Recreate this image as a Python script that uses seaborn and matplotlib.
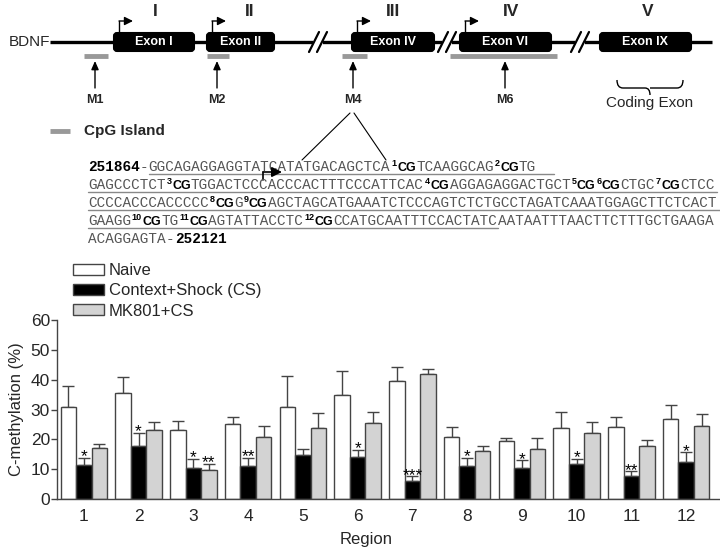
import numpy as np
import pandas as pd
import matplotlib
matplotlib.use("Agg")
import matplotlib.pyplot as plt
from matplotlib.path import Path
from matplotlib.patches import PathPatch, FancyBboxPatch
import seaborn as sns

# ---------------- data ----------------
regions = [str(i) for i in range(1, 13)]
groups = ["Naive", "Context+Shock (CS)", "MK801+CS"]
naive = [30.8, 35.5, 23.0, 25.2, 30.9, 34.9, 39.4, 20.9, 19.4, 23.8, 24.0, 26.8]
naive_err = [7.2, 5.5, 3.3, 2.3, 10.4, 8.0, 4.8, 3.2, 0.9, 5.2, 3.4, 4.6]
cs = [11.5, 17.8, 10.4, 11.2, 14.7, 14.2, 6.1, 11.2, 10.4, 11.7, 7.8, 12.5]
cs_err = [2.2, 4.3, 3.0, 2.7, 2.1, 2.3, 1.5, 2.5, 2.6, 1.7, 1.5, 3.2]
mk = [17.0, 23.0, 9.8, 20.7, 23.9, 25.4, 41.8, 16.2, 16.8, 22.1, 17.8, 24.5]
mk_err = [1.5, 2.9, 1.9, 3.8, 4.8, 3.7, 1.9, 1.6, 3.5, 3.7, 2.1, 4.0]
naive_stars = [""] * 12
cs_stars = ["*", "*", "*", "**", "", "*", "***", "*", "*", "*", "**", "*"]
mk_stars = ["", "", "**", "", "", "", "", "", "", "", "", ""]
yticks = [0, 10, 20, 30, 40, 50, 60]

df = pd.DataFrame({
    "Region": regions * 3,
    "Group": [g for g in groups for _ in regions],
    "Value": naive + cs + mk,
})
errs = [naive_err, cs_err, mk_err]
stars = [naive_stars, cs_stars, mk_stars]

sns.set_style("ticks")
plt.rcParams["font.family"] = ["Liberation Sans", "DejaVu Sans"]

W, H = 720, 549
fig = plt.figure(figsize=(7.2, 5.49), dpi=100)

# ---------------- diagram (pixel coordinate canvas) ----------------
axd = fig.add_axes([0, 0, 1, 1])
axd.set_xlim(0, W)
axd.set_ylim(H, 0)
axd.axis("off")
axd.patch.set_alpha(0)

ly = 42
axd.text(9, ly, "BDNF", fontsize=11, va="center", ha="left")
axd.plot([50, 712], [ly, ly], color="black", lw=2.4, solid_capstyle="butt", zorder=1)

exons = [("Exon I", 112, 196), ("Exon II", 205, 276), ("Exon IV", 350, 436),
         ("Exon VI", 458, 553), ("Exon IX", 598, 693)]
for name, x0, x1 in exons:
    axd.add_patch(FancyBboxPatch((x0 + 2, ly - 9), x1 - x0 - 4, 18,
                                 boxstyle="round,pad=0,rounding_size=3",
                                 fc="black", ec="black", lw=1.5, zorder=3))
    axd.text((x0 + x1) / 2, ly, name, color="white", fontsize=9,
             fontweight="bold", ha="center", va="center", zorder=4)

for name, x0, x1 in exons[:4]:
    xa = x0 + 7
    axd.plot([xa, xa], [ly - 10, ly - 21], color="black", lw=1, zorder=3)
    axd.annotate("", xy=(xa + 14, ly - 21), xytext=(xa, ly - 21),
                 arrowprops=dict(arrowstyle="-|>,head_length=0.5,head_width=0.25",
                                 color="black", lw=1, shrinkA=0, shrinkB=0))

numerals = [("I", 155), ("II", 250), ("III", 393), ("IV", 511), ("V", 648)]
for t, x in numerals:
    axd.text(x, 12, t, fontsize=12.5, fontweight="bold", ha="center", va="center")

for xb in [318, 447, 580]:
    axd.add_patch(plt.Rectangle((xb - 5, ly - 3), 10, 6, fc="white", ec="none", zorder=2))
    for dx in (-4, 4):
        axd.plot([xb + dx - 5, xb + dx + 5], [ly + 10, ly - 10], color="black", lw=1.6, zorder=2)

cpg = [(84, 108, 95, "M1"), (207, 229, 217, "M2"), (342, 367, 353, "M4"), (450, 557, 505, "M6")]
for x0, x1, xm, lab in cpg:
    axd.plot([x0, x1], [56, 56], color="#999999", lw=3.5, solid_capstyle="butt")
    axd.annotate("", xy=(xm, 61), xytext=(xm, 88),
                 arrowprops=dict(arrowstyle="-|>,head_length=0.5,head_width=0.22",
                                 color="black", lw=1, shrinkA=0, shrinkB=0))
    axd.text(xm, 100, lab, fontsize=9, fontweight="bold", ha="center", va="center")

# brace under coding exon
bx0, bx1, by0, by1 = 617, 683, 80, 88
bm = (bx0 + bx1) / 2
verts = [(bx0, by0), (bx0, by1), (bx0 + 6, by1), (bm - 5, by1), (bm, by1), (bm, by1 + 7),
         (bm, by1), (bm + 5, by1), (bx1 - 6, by1), (bx1, by1), (bx1, by0)]
codes = [Path.MOVETO, Path.CURVE3, Path.CURVE3, Path.LINETO, Path.CURVE3, Path.CURVE3,
         Path.MOVETO, Path.CURVE3, Path.LINETO, Path.CURVE3, Path.CURVE3]
axd.add_patch(PathPatch(Path(verts, codes), fc="none", ec="black", lw=1))
axd.text(bm, 103, "Coding Exon", fontsize=11, ha="center", va="center")

axd.plot([50, 70], [131, 131], color="#999999", lw=3.5, solid_capstyle="butt")
axd.text(84, 131, "CpG Island", fontsize=11, fontweight="bold", ha="left", va="center")

axd.plot([350, 302], [113, 160], color="black", lw=0.8)
axd.plot([354, 386], [113, 160], color="black", lw=0.8)

# ---------------- sequence ----------------
mono_fs = 10.4
cw = 0.6 * mono_fs * 100 / 72
seq_lines = [
    [("251864", "b"), ("-", "n"), ("GGCAGAGGAGGTATCATATGACAGCTCA", "n"), ("1", "s"), ("CG", "c"),
     ("TCAAGGCAG", "n"), ("2", "s"), ("CG", "c"), ("TG", "n")],
    [("GAGCCCTCT", "n"), ("3", "s"), ("CG", "c"), ("TGGACTCCCACCCACTTTCCCATTCAC", "n"), ("4", "s"),
     ("CG", "c"), ("AGGAGAGGACTGCT", "n"), ("5", "s"), ("CG", "c"), ("6", "s"), ("CG", "c"),
     ("CTGC", "n"), ("7", "s"), ("CG", "c"), ("CTCC", "n")],
    [("CCCCACCCACCCCC", "n"), ("8", "s"), ("CG", "c"), ("G", "n"), ("9", "s"), ("CG", "c"),
     ("AGCTAGCATGAAATCTCCCAGTCTCTGCCTAGATCAAATGGAGCTTCTCACT", "n")],
    [("GAAGG", "n"), ("10", "s"), ("CG", "c"), ("TG", "n"), ("11", "s"), ("CG", "c"),
     ("AGTATTACCTC", "n"), ("12", "s"), ("CG", "c"), ("CCATGCAATTTCCACTATC", "n"),
     ("AATAATTTAACTTCTTTGCTGAAGA", "n")],
    [("ACAGGAGTA", "n"), ("-", "n"), ("252121", "b")],
]
line_y = [167, 185, 203, 221, 239]
x_start = 88
cg_fs = 9
sup_fs = 6.5
for li, (segs, yc) in enumerate(zip(seq_lines, line_y)):
    x = x_start
    base = yc + 4
    starts = []
    for text, st in segs:
        starts.append(x)
        if st == "n":
            axd.text(x, base, text, family="Liberation Mono", fontsize=mono_fs, color="#555555",
                     ha="left", va="baseline")
            x += len(text) * cw
        elif st == "b":
            axd.text(x, base, text, family="Liberation Mono", fontsize=mono_fs, fontweight="bold",
                     color="black", ha="left", va="baseline")
            x += len(text) * cw
        elif st == "c":
            axd.text(x, base, text, fontsize=cg_fs, fontweight="bold", color="black",
                     ha="left", va="baseline")
            x += 1.5 * cg_fs * 100 / 72
        else:
            axd.text(x + 0.5, base - 5.5, text, fontsize=sup_fs, fontweight="bold", color="black",
                     ha="left", va="baseline")
            x += len(text) * 0.556 * sup_fs * 100 / 72 + 1
    starts.append(x)
    ul = yc + 7
    if li == 0:
        axd.plot([starts[2], x + 2 * cw], [ul, ul], color="#888888", lw=1)
    elif li in (1, 2):
        axd.plot([x_start, x + 2], [ul, ul], color="#888888", lw=1)
    elif li == 3:
        axd.plot([x_start, starts[-2]], [ul, ul], color="#888888", lw=1)

# transcription start arrow in the sequence
axd.plot([263, 263], [180, 172], color="black", lw=1.2)
axd.annotate("", xy=(282, 172), xytext=(263, 172),
             arrowprops=dict(arrowstyle="-|>,head_length=0.6,head_width=0.3",
                             color="black", lw=1.2, shrinkA=0, shrinkB=0))

# ---------------- bar chart ----------------
ax = fig.add_axes([57 / W, 1 - 499 / H, (719 - 57) / W, (499 - 320) / H])
palette = ["white", "black", "#d3d3d3"]
sns.barplot(data=df, x="Region", y="Value", hue="Group", order=regions, hue_order=groups,
            palette=palette, edgecolor="#444444", linewidth=1, width=0.85, gap=0,
            errorbar=None, ax=ax, zorder=2)
handles, labels = ax.get_legend_handles_labels()
if ax.get_legend() is not None:
    ax.get_legend().remove()

for cont, err, st in zip(ax.containers, errs, stars):
    xs = [b.get_x() + b.get_width() / 2 for b in cont]
    hs = [b.get_height() for b in cont]
    ax.errorbar(xs, hs, yerr=[np.zeros(len(err)), err], fmt="none", ecolor="#444444",
                elinewidth=1, capsize=4, capthick=1, zorder=1)
    for xi, hi, ei, s in zip(xs, hs, err, st):
        if s:
            ax.annotate(s, (xi, hi + ei), xytext=(0, -2.5), textcoords="offset points",
                        ha="center", va="baseline", fontsize=12.5, color="black")

ax.set_ylim(0, 60)
ax.set_xlim(-0.49, 11.6)
ax.set_yticks(yticks)
ax.tick_params(axis="y", length=4, width=1, labelsize=12.5, pad=1, color="#444444")
ax.tick_params(axis="x", length=0, labelsize=12.5, pad=7)
sns.despine(ax=ax)
for sp in ("left", "bottom"):
    ax.spines[sp].set_color("#444444")
    ax.spines[sp].set_linewidth(1)
ax.set_xlabel("Region", fontsize=12)
ax.xaxis.set_label_coords((366 - 57) / 662, -0.185)
ax.set_ylabel("C-methylation (%)", fontsize=12)
ax.yaxis.set_label_coords(-0.05, 0.5)
ax.patch.set_alpha(0)

fig.legend(handles, labels, loc="upper left", bbox_to_anchor=(73 / W, 1 - 263 / H),
           frameon=False, borderpad=0, borderaxespad=0, handlelength=1.85, handleheight=0.65,
           handletextpad=0.3, labelspacing=0.32, fontsize=12)

fig.savefig("out.png", dpi=100)
